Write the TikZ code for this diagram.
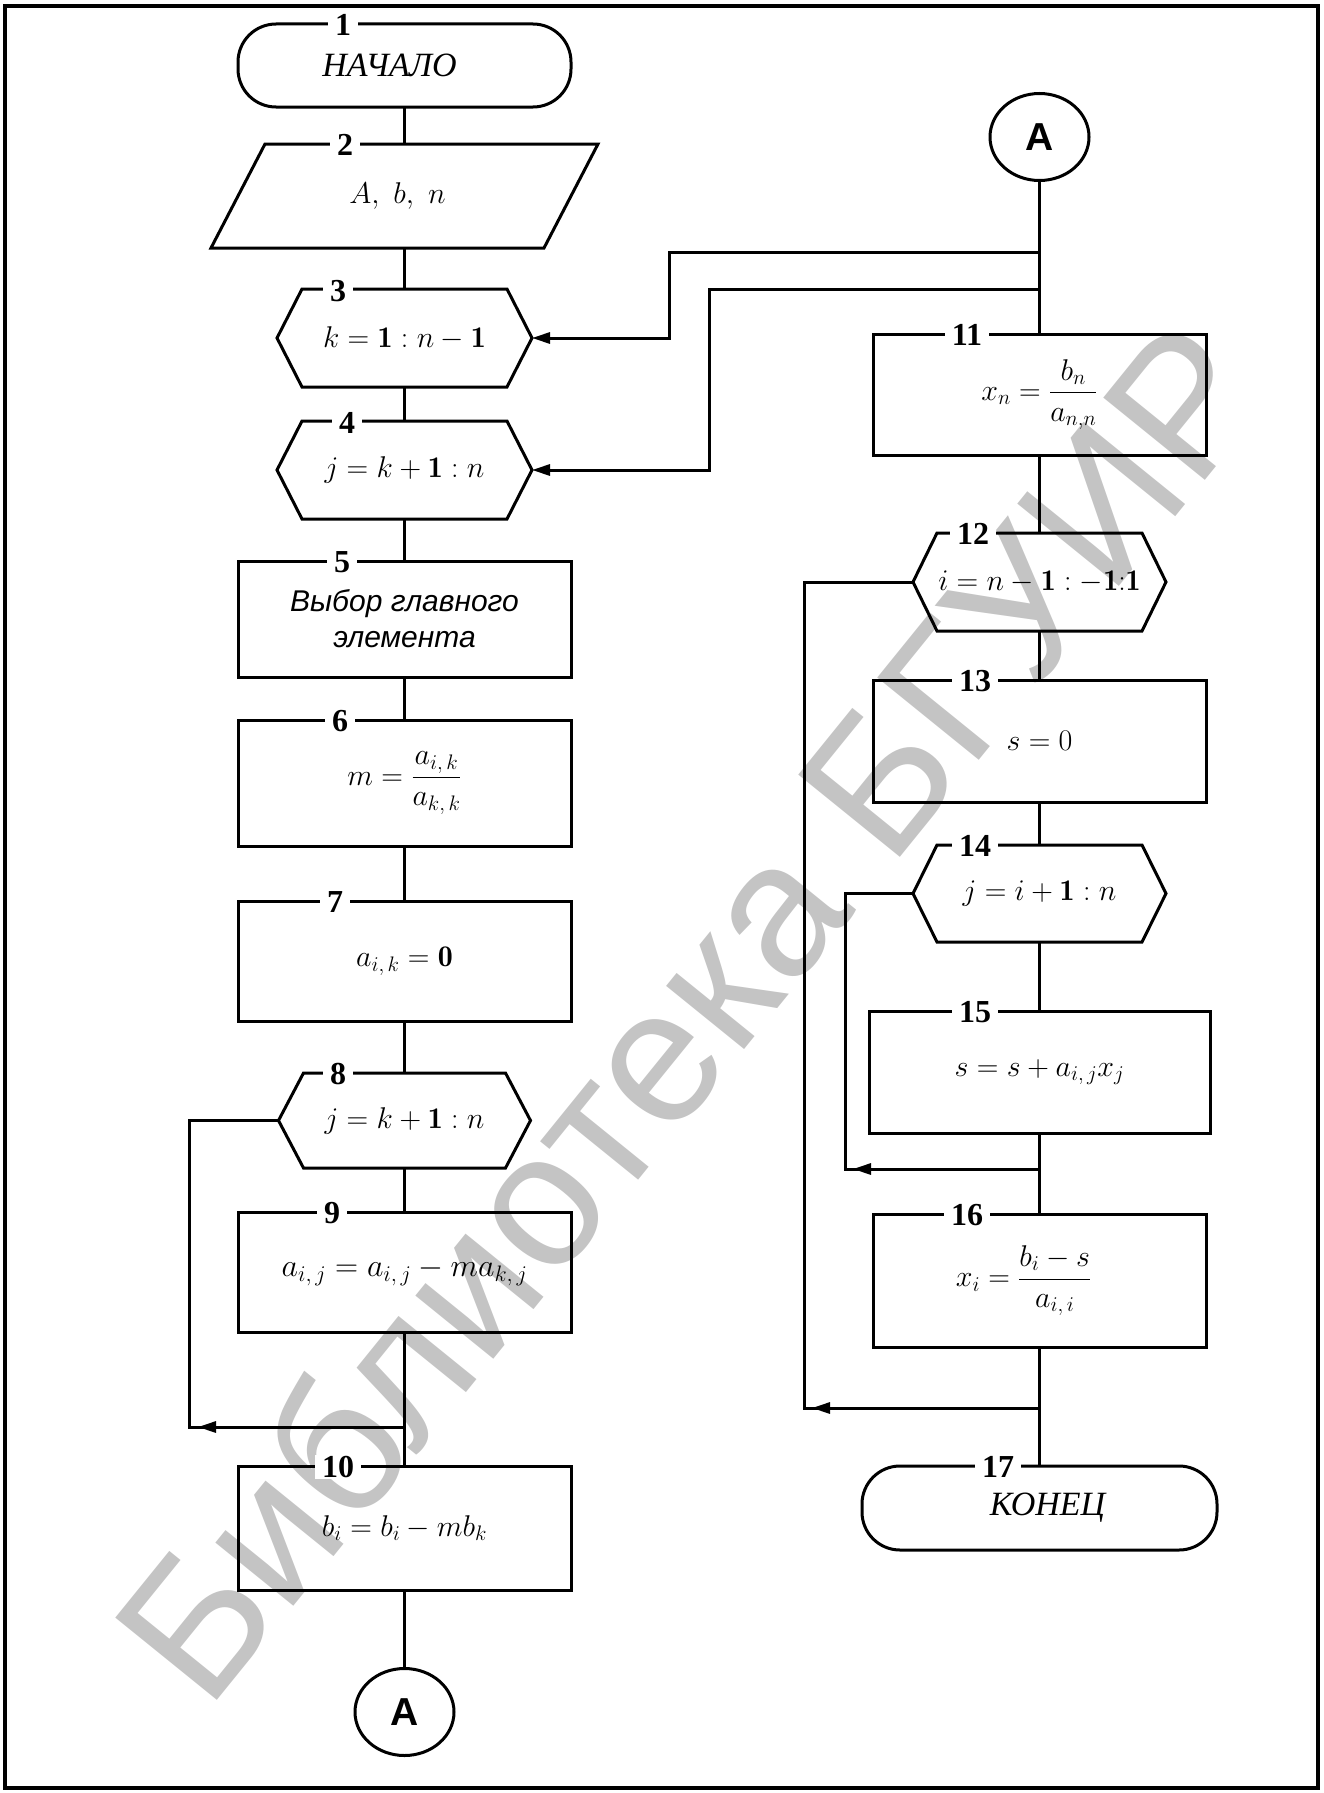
\RequirePackage{fix-cm}
\documentclass[tikz,border=0pt]{standalone}
\usepackage{fontspec}
\usepackage{amsmath}
\newfontfamily\tnrf{Liberation Serif}
\newfontfamily\arialf{Liberation Sans}
\usetikzlibrary{shapes.geometric,arrows.meta}
\newcommand\mthsize{\fontsize{30}{36}\selectfont}
\newcommand\hexpath[2]{\draw[ln] ([xshift=#2]#1.north west) -- ([xshift=-#2]#1.north east) -- (#1.east) -- ([xshift=-#2]#1.south east) -- ([xshift=#2]#1.south west) -- (#1.west) -- cycle;}
\tikzset{
  ln/.style={line width=3pt},
  arr/.style={ln, -{Triangle[length=18pt,width=11pt]}},
  base/.style={rectangle, inner sep=0pt, outer sep=0pt, font=\mthsize},
  box/.style={base, draw, line width=3pt},
  term/.style={box, rounded corners=38pt, font=\fontsize{34}{40}\selectfont\tnrf\itshape},
  hx/.style={base},
  cnode/.style={draw, line width=3pt, ellipse, inner sep=0pt, outer sep=0pt, minimum width=99pt, minimum height=87pt, font=\fontsize{39}{40}\selectfont\arialf\bfseries},
  lbl/.style={fill=white, inner xsep=7pt, inner ysep=1pt, font=\fontsize{32}{32}\selectfont\tnrf\bfseries},
  wmark/.style={rotate=51, text=black!23, inner sep=0pt, font=\fontsize{190}{190}\selectfont\arialf}
}
\begin{document}
\begin{tikzpicture}[x=1pt,y=-1pt]
\useasboundingbox (0,0) rectangle (1323,1793);
% watermark
\node[wmark] (wm) at (688,1010) {Библиотека БГУИР};
% frame
\draw[line width=4pt] (5,6) rectangle (1318,1788);

% left column
\node[term, minimum width=333pt, minimum height=83pt] (b1) at (404.5,65.5) {НАЧАЛО\hspace*{30pt}};
\node[base, minimum width=387pt, minimum height=104pt] (b2) at (404.5,196) {$A,\ b,\ n$\hspace*{14pt}};
\draw[ln] ([xshift=54pt]b2.north west) -- (b2.north east) -- ([xshift=-54pt]b2.south east) -- (b2.south west) -- cycle;
\node[hx, minimum width=255pt, minimum height=98pt] (h3) at (404.5,338) {$k=\mathbf{1}:n-\mathbf{1}$};
\hexpath{h3}{25pt}
\node[hx, minimum width=255pt, minimum height=98pt] (h4) at (404.5,470) {$j=k+\mathbf{1}:n$};
\hexpath{h4}{25pt}
\node[box, minimum width=333pt, minimum height=116pt, align=center, font=\fontsize{30}{36}\selectfont\arialf\itshape] (b5) at (404.5,619) {Выбор главного\\элемента};
\node[box, minimum width=333pt, minimum height=126pt] (b6) at (404.5,783) {$m=\dfrac{a_{i,\,k}}{a_{k,\,k}}$};
\node[box, minimum width=333pt, minimum height=120pt] (b7) at (404.5,961) {$a_{i,\,k}=\mathbf{0}$};
\node[hx, minimum width=252pt, minimum height=95pt] (h8) at (404.5,1120.5) {$j=k+\mathbf{1}:n$};
\hexpath{h8}{25pt}
\node[box, minimum width=333pt, minimum height=120pt, font=\fontsize{32}{38}\selectfont] (b9) at (404.5,1272) {$a_{i,\,j}=a_{i,\,j}-ma_{k,\,j}$};
\node[box, minimum width=333pt, minimum height=124pt] (b10) at (404.5,1528) {$b_i=b_i-mb_k$};
\node[cnode] (cA1) at (404.5,1712) {A};

% right column
\node[cnode] (cA2) at (1039.5,137) {A};
\node[box, minimum width=333pt, minimum height=121pt] (b11) at (1039.5,394.5) {$x_n=\dfrac{b_n}{a_{n,n}}$};
\node[hx, minimum width=253pt, minimum height=98pt] (h12) at (1039.5,582) {$i=n-\mathbf{1}:{-}\mathbf{1}{:}\mathbf{1}$};
\hexpath{h12}{24pt}
\node[box, minimum width=333pt, minimum height=122pt] (b13) at (1039.5,741) {$s=0$};
\node[hx, minimum width=253pt, minimum height=97pt] (h14) at (1039.5,893.5) {$j=i+\mathbf{1}:n$};
\hexpath{h14}{24pt}
\node[box, minimum width=341pt, minimum height=122pt] (b15) at (1039.5,1072) {$s=s+a_{i,\,j}x_j$};
\node[box, minimum width=333pt, minimum height=133pt] (b16) at (1039.5,1280.5) {$x_i=\dfrac{b_i-s}{a_{i,\,i}}$\hspace*{32pt}};
\node[term, minimum width=355pt, minimum height=84pt] (t17) at (1039.5,1508) {\hspace*{16pt}КОНЕЦ};

% junction coordinates
\coordinate (j1) at (1039.5,252);
\coordinate (p1) at (669,252);
\coordinate (j2) at (1039.5,289);
\coordinate (p2) at (709,289);
\coordinate (m8) at (404.5,1427);
\coordinate (c8) at (189,1427);
\coordinate (m12) at (1039.5,1408);
\coordinate (c12) at (804,1408);
\coordinate (m14) at (1039.5,1169);
\coordinate (c14) at (845,1169);

% main flow
\draw[ln] (b1.south) -- (b2.north);
\draw[ln] (b2.south) -- (h3.north);
\draw[ln] (h3.south) -- (h4.north);
\draw[ln] (h4.south) -- (b5.north);
\draw[ln] (b5.south) -- (b6.north);
\draw[ln] (b6.south) -- (b7.north);
\draw[ln] (b7.south) -- (h8.north);
\draw[ln] (h8.south) -- (b9.north);
\draw[ln] (b9.south) -- (b10.north);
\draw[ln] (b10.south) -- (cA1.north);
\draw[ln] (cA2.south) -- (b11.north);
\draw[ln] (b11.south) -- (h12.north);
\draw[ln] (h12.south) -- (b13.north);
\draw[ln] (b13.south) -- (h14.north);
\draw[ln] (h14.south) -- (b15.north);
\draw[ln] (b15.south) -- (b16.north);
\draw[ln] (b16.south) -- (t17.north);

% branches from A to loop heads
\draw[arr] (j1) -- (p1) |- (h3.east);
\draw[arr] (j2) -- (p2) |- (h4.east);

% loop returns
\draw[ln] (h8.west) -| (c8) -- (m8);
\draw[arr, shorten >=9pt] (m8) -- (c8);
\draw[ln] (h12.west) -| (c12) -- (m12);
\draw[arr, shorten >=8pt] (m12) -- (c12);
\draw[ln] (h14.west) -| (c14) -- (m14);
\draw[arr, shorten >=8pt] (m14) -- (c14);

% block numbers
\node[lbl] (l1) at (343,25) {1};
\node[lbl] (l2) at (345,145) {2};
\node[lbl] (l3) at (338,291) {3};
\node[lbl] (l4) at (347,423) {4};
\node[lbl] (l5) at (342,562) {5};
\node[lbl] (l6) at (340,721) {6};
\node[lbl] (l7) at (335,902) {7};
\node[lbl] (l8) at (338,1074) {8};
\node[lbl] (l9) at (332,1213) {9};
\node[lbl] (l10) at (338,1467) {10};
\node[lbl] (l11) at (967,335) {11};
\node[lbl] (l12) at (973,534) {12};
\node[lbl] (l13) at (975,681) {13};
\node[lbl] (l14) at (975,846) {14};
\node[lbl] (l15) at (975,1012) {15};
\node[lbl] (l16) at (967,1215) {16};
\node[lbl] (l17) at (998,1467) {17};
\end{tikzpicture}
\end{document}
